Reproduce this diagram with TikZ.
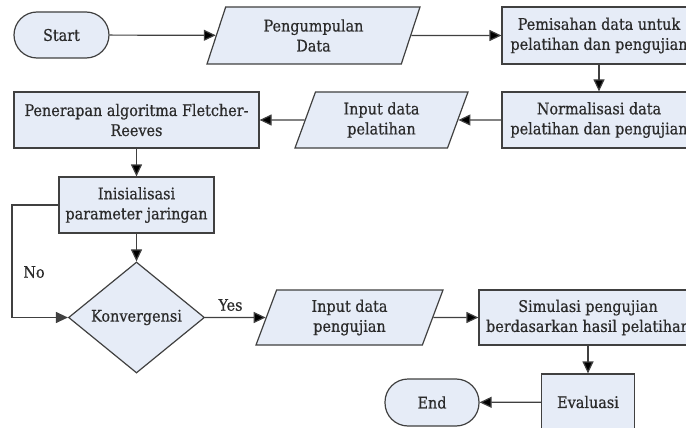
\documentclass[tikz,border=0pt]{standalone}
\usepackage{fontspec}
\setmainfont{DejaVu Serif Condensed}[FakeBold=0.6]
\usetikzlibrary{shapes.geometric, arrows.meta}
\definecolor{boxfill}{HTML}{E6ECF7}
\definecolor{boxline}{HTML}{404040}
\definecolor{boxtext}{HTML}{2B2B2B}

\begin{document}
\begin{tikzpicture}[x=1pt, y=-1pt]
\tikzstyle{every node}=[text=boxtext, font=\fontsize{16}{20}\selectfont, align=center]
\tikzstyle{proc}=[draw=boxline, fill=boxfill, line width=1.2pt, inner sep=0pt, rectangle]
\tikzstyle{term}=[proc, rounded corners=23pt]
\tikzstyle{io}=[proc, trapezium, trapezium left angle=60, trapezium right angle=120, trapezium stretches body]
\tikzstyle{decision}=[proc, diamond]
\useasboundingbox (0,0) rectangle (686,428);

\node[term, minimum width=95pt, minimum height=46pt] (start) at (61.5,35) {Start};
\node[io, minimum width=213pt, minimum height=57pt] (pengumpulan) at (313.5,35.5) {Pengumpulan\\Data};
\node[proc, minimum width=194pt, minimum height=57pt] (pemisahan) at (599,35.5) {Pemisahan data untuk\\pelatihan dan pengujian};
\node[proc, minimum width=194pt, minimum height=56pt] (normalisasi) at (599,120) {Normalisasi data\\pelatihan dan pengujian};
\node[io, minimum width=173pt, minimum height=56pt] (inpel) at (381.5,120) {Input data\\pelatihan};
\node[proc, minimum width=245pt, minimum height=56pt] (penerapan) at (136.5,120) {Penerapan algoritma Fletcher-\\Reeves};
\node[proc, minimum width=155pt, minimum height=56pt] (inisialisasi) at (136.5,205) {Inisialisasi\\parameter jaringan};
\node[decision, minimum width=136pt, minimum height=111pt] (konvergensi) at (136.5,317.5) {Konvergensi};
\node[io, minimum width=187pt, minimum height=55pt] (inpeng) at (349.5,317.5) {Input data\\pengujian};
\node[proc, minimum width=218pt, minimum height=55pt] (simulasi) at (588,317.5) {Simulasi pengujian\\berdasarkan hasil pelatihan};
\node[proc, minimum width=93pt, minimum height=56pt] (evaluasi) at (588,402) {Evaluasi};
\node[term, minimum width=94pt, minimum height=47pt] (end) at (432,402.5) {End};
\coordinate (loop) at (12,205);
\node (no) at (34,272) {No};
\node (yes) at (230.5,305) {Yes};

\path[draw=boxline, line width=1.2pt, -{Triangle[length=12pt, width=11pt]}]
(start) edge (pengumpulan)
(pengumpulan) edge (pemisahan)
(pemisahan) edge (normalisasi)
(normalisasi) edge (inpel)
(inpel) edge (penerapan)
(penerapan) edge (inisialisasi)
(inisialisasi) edge (konvergensi)
(konvergensi) edge (inpeng)
(inpeng) edge (simulasi)
(simulasi) edge (evaluasi)
(evaluasi) edge (end);
\draw[boxline, line width=1.2pt, -{Triangle[length=12pt, width=11pt]}]
(inisialisasi.west) -- (loop) |- (konvergensi.west);
\end{tikzpicture}
\end{document}
